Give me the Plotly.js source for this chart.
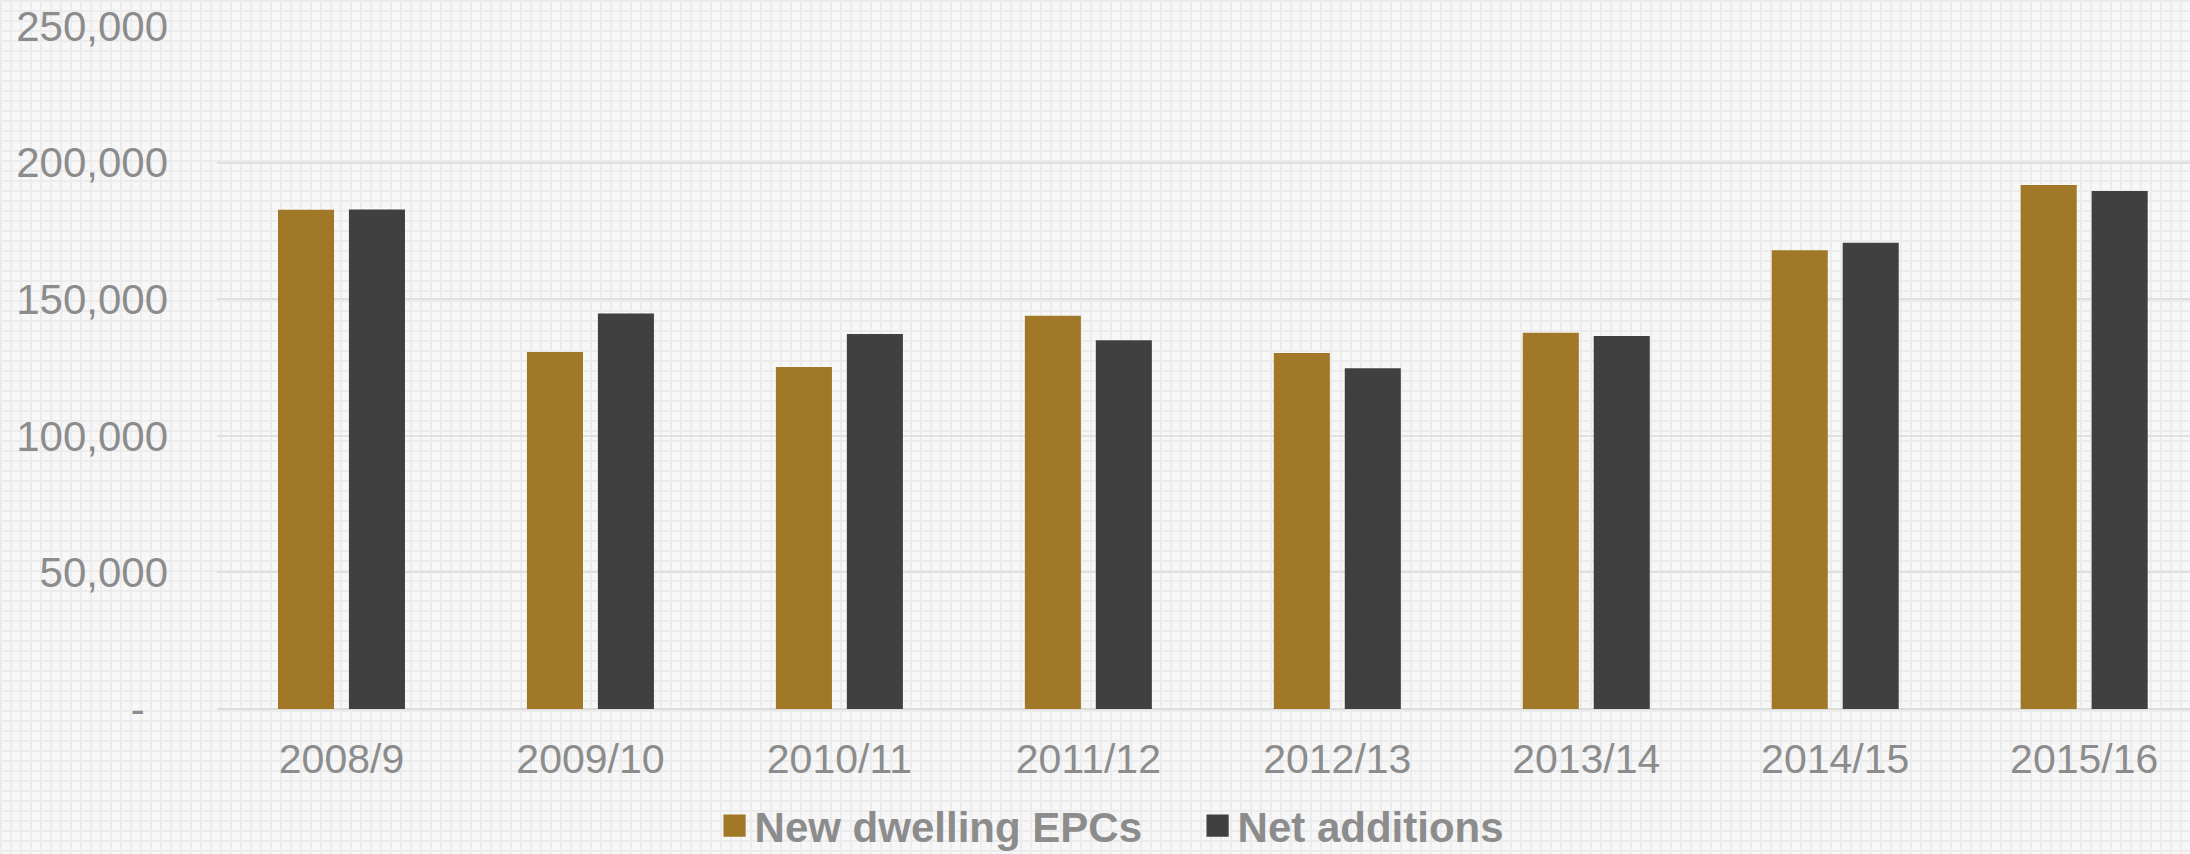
<!DOCTYPE html>
<html>
<head>
<meta charset="utf-8">
<script src="https://cdn.plot.ly/plotly-3.0.1.min.js"></script>
<style>
  html, body {
    margin: 0;
    padding: 0;
  }
  body {
    background-color: #f7f7f7;
    background-image:
      linear-gradient(#ececec 2px, transparent 2px),
      linear-gradient(90deg, #ececec 2px, transparent 2px);
    background-size: 10px 10px;
  }
  #chart {
    width: 2190px;
    height: 854px;
  }
</style>
</head>
<body>
<div id="chart"></div>
<script>
let years = ['2008/9', '2009/10', '2010/11', '2011/12', '2012/13', '2013/14', '2014/15', '2015/16'];
let newDwellingEpcs = [182700, 130700, 125200, 143900, 130300, 137700, 167900, 191800];
let netAdditions = [182800, 144800, 137300, 135000, 124700, 136500, 170700, 189600];

let yTickVals = [0, 50000, 100000, 150000, 200000, 250000];
let yTickText = ['-\u00a0\u00a0', '50,000', '100,000', '150,000', '200,000', '250,000'];

let gold = '#a07828';
let charcoal = '#404040';
let labelGrey = '#8c8c8c';

let epcTrace = {
  x: years,
  y: newDwellingEpcs,
  name: 'New dwelling EPCs',
  type: 'bar',
  marker: {color: gold},
  hoverinfo: 'x+y+name'
};

let netTrace = {
  x: years,
  y: netAdditions,
  name: 'Net additions',
  type: 'bar',
  marker: {color: charcoal},
  hoverinfo: 'x+y+name'
};

let layout = {
  width: 2190,
  height: 854,
  margin: {l: 217, r: 0, t: 26, b: 145, autoexpand: false},
  paper_bgcolor: 'rgba(0,0,0,0)',
  plot_bgcolor: 'rgba(0,0,0,0)',
  font: {family: '"Liberation Sans", Arial, sans-serif', color: labelGrey, size: 41},
  barmode: 'group',
  bargap: 0.43,
  bargroupgap: 0.21,
  xaxis: {
    type: 'category',
    range: [-0.5, 7.425],
    showgrid: false,
    showline: false,
    zeroline: false,
    ticks: '',
    ticklabelstandoff: 22,
    tickfont: {size: 41, color: labelGrey}
  },
  yaxis: {
    range: [0, 250000],
    tickvals: yTickVals,
    ticktext: yTickText,
    showgrid: true,
    gridcolor: '#e0e0e0',
    gridwidth: 2,
    zeroline: true,
    zerolinecolor: '#dcdcdc',
    zerolinewidth: 2,
    showline: false,
    ticks: '',
    ticklabelstandoff: 48,
    tickfont: {size: 42, color: labelGrey}
  },
  showlegend: true,
  legend: {
    orientation: 'h',
    x: 0.497,
    xanchor: 'center',
    y: -0.171,
    yanchor: 'middle',
    entrywidth: 438,
    entrywidthmode: 'pixels',
    font: {size: 42, color: labelGrey, weight: 'bold'},
    bgcolor: 'rgba(0,0,0,0)'
  }
};

Plotly.newPlot('chart', [epcTrace, netTrace], layout, {displayModeBar: false, staticPlot: true}).then(function () {
  // Excel-style legend keys are larger than Plotly's default bar swatch
  document.querySelectorAll('.legend .legendpoints path').forEach(function (p) {
    let t = p.getAttribute('transform') || '';
    p.setAttribute('transform', t + ' scale(1.85)');
  });
});
</script>
</body>
</html>
